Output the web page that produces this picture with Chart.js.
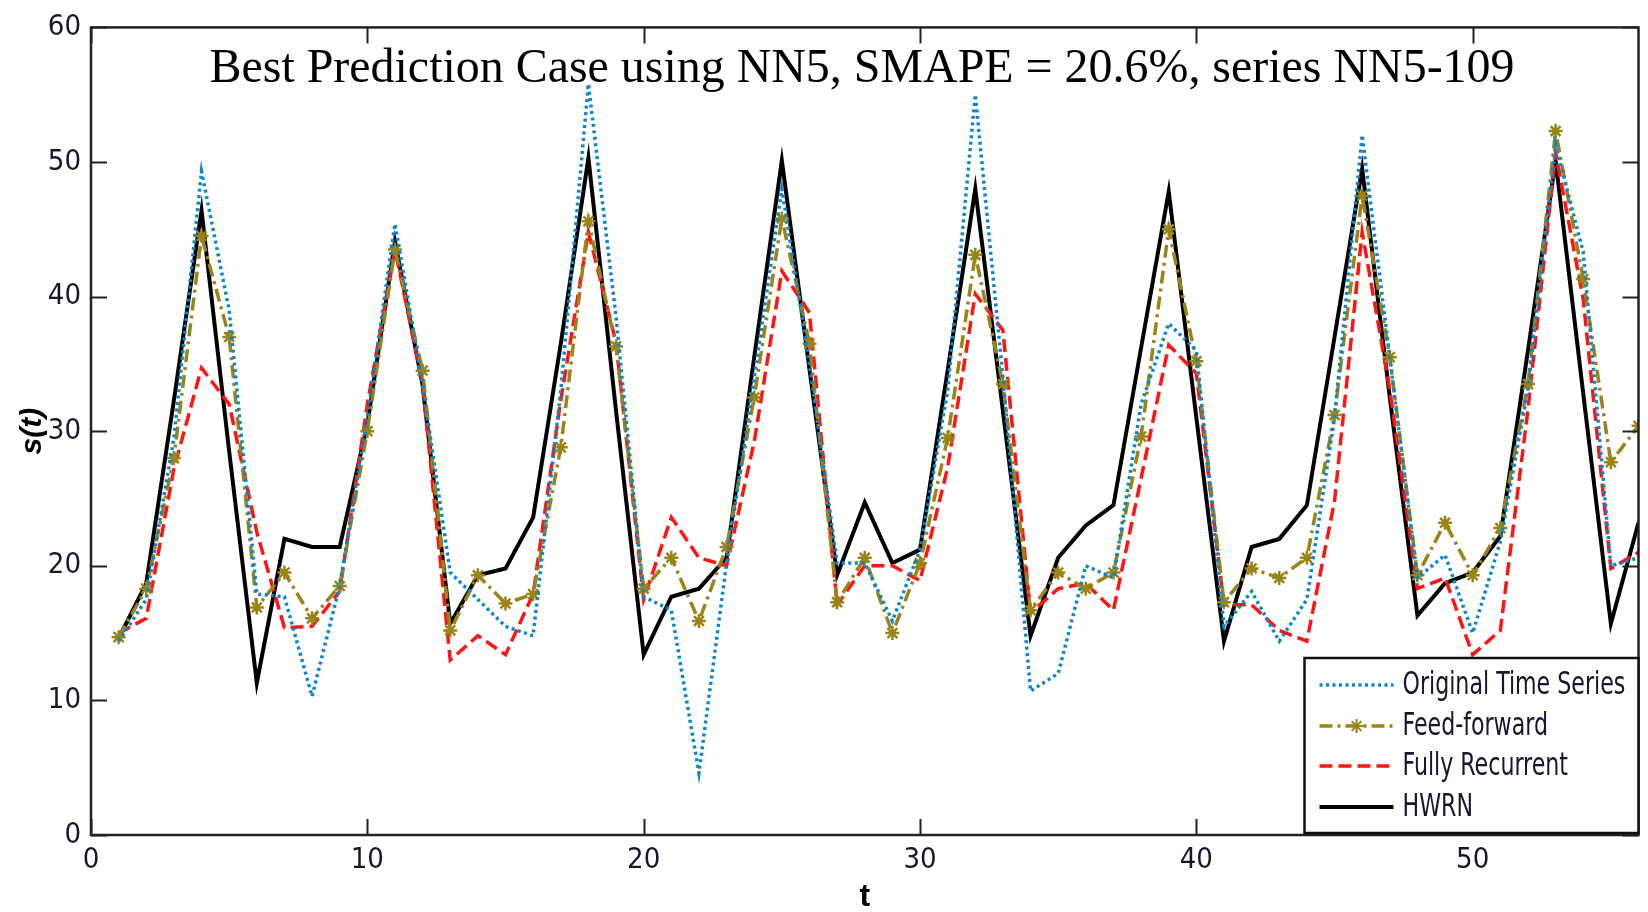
<!DOCTYPE html>
<html>
<head>
<meta charset="utf-8">
<script src="https://cdn.jsdelivr.net/npm/chart.js@4.4.1/dist/chart.umd.min.js"></script>
<style>
  html, body { margin: 0; padding: 0; background: #fff; }
  canvas { display: block; }
</style>
</head>
<body>
<canvas id="chart" width="1648" height="912"></canvas>
<script>
// time index t
const tValues = [1, 2, 3, 4, 5, 6, 7, 8, 9, 10, 11, 12, 13, 14, 15, 16, 17, 18, 19, 20,
  21, 22, 23, 24, 25, 26, 27, 28, 29, 30, 31, 32, 33, 34, 35, 36, 37, 38, 39, 40,
  41, 42, 43, 44, 45, 46, 47, 48, 49, 50, 51, 52, 53, 54, 55, 56];

// values
const originalSeries = [14.4, 17.5, 29.5, 49.3, 39.0, 17.9, 17.7, 10.3, 18.5, 31.0,
  45.4, 33.5, 19.5, 17.5, 15.5, 14.8, 33.0, 55.8, 38.5, 17.7,
  16.7, 4.6, 20.2, 34.0, 48.0, 35.0, 20.2, 20.2, 15.9, 21.2,
  33.0, 55.0, 34.0, 10.7, 12.0, 20.0, 19.1, 32.0, 38.0, 36.0,
  15.5, 18.1, 14.4, 17.5, 31.0, 52.0, 35.5, 19.1, 20.8, 15.0,
  21.8, 33.1, 51.3, 43.3, 20.0, 20.6];

const feedForward = [14.7, 18.3, 28.0, 44.5, 37.0, 16.9, 19.5, 16.1, 18.5, 30.0,
  43.5, 34.5, 15.2, 19.3, 17.2, 17.9, 28.8, 45.6, 36.3, 18.3,
  20.6, 15.9, 21.4, 32.5, 45.8, 36.5, 17.3, 20.6, 15.0, 20.2,
  29.5, 43.1, 33.5, 16.7, 19.5, 18.3, 19.5, 29.6, 45.0, 35.2,
  17.3, 19.8, 19.1, 20.6, 31.2, 47.5, 35.5, 19.3, 23.2, 19.3,
  22.8, 33.5, 52.3, 41.3, 27.7, 30.4];

const fullyRecurrent = [15.0, 16.1, 27.2, 34.7, 32.0, 22.5, 15.4, 15.5, 18.1, 32.0,
  43.5, 33.5, 13.0, 14.8, 13.4, 17.9, 32.3, 44.8, 36.6, 17.5,
  23.6, 20.6, 20.0, 29.2, 41.9, 38.8, 17.1, 20.0, 20.0, 18.9,
  27.3, 40.2, 37.5, 16.5, 18.3, 18.7, 16.7, 26.5, 36.4, 34.3,
  17.1, 17.1, 15.2, 14.4, 24.8, 44.8, 33.1, 18.3, 19.1, 13.4,
  15.2, 31.6, 50.7, 39.8, 19.8, 21.0];

const hwrn = [14.6, 18.7, 32.3, 46.4, 28.5, 11.3, 22.0, 21.4, 21.4, 30.5,
  44.1, 33.4, 15.7, 19.3, 19.8, 23.6, 36.5, 50.3, 31.5, 13.4,
  17.7, 18.3, 20.6, 35.5, 50.1, 34.6, 19.3, 24.7, 20.2, 21.2,
  34.5, 48.0, 31.5, 14.8, 20.6, 23.0, 24.5, 36.2, 47.8, 31.0,
  14.4, 21.4, 22.0, 24.5, 37.0, 49.5, 32.5, 16.3, 18.7, 19.5,
  22.2, 36.0, 50.1, 32.8, 15.7, 23.2];

const xTicks = [0, 10, 20, 30, 40, 50];
const yTicks = [0, 10, 20, 30, 40, 50, 60];

const titleText = 'Best Prediction Case using NN5, SMAPE = 20.6%, series NN5-109';

const BLUE = '#0a86cc';
const TAN = '#9a8418';
const RED = '#ff1414';
const BLACK = '#000000';
const LABEL_COLOR = '#16162e';
const NARROW = '"Liberation Sans Narrow", "DejaVu Sans Condensed", "Liberation Sans", Arial, sans-serif';

const toPoints = (ys) => tValues.map((t, i) => ({ x: t, y: ys[i] }));

const seriesDefs = [
  { label: 'Original Time Series', data: originalSeries, color: BLUE, dash: [3, 3.5], width: 3.5 },
  { label: 'Feed-forward', data: feedForward, color: TAN, dash: [13, 5, 3, 5], width: 3.5, marker: true },
  { label: 'Fully Recurrent', data: fullyRecurrent, color: RED, dash: [13, 6], width: 3.5 },
  { label: 'HWRN', data: hwrn, color: BLACK, dash: [], width: 4 },
];

// box, inward ticks on all four sides
const framePlugin = {
  id: 'frame',
  afterDatasetsDraw(chart) {
    const { ctx, chartArea: a, scales } = chart;
    const len = 16;
    ctx.save();
    ctx.strokeStyle = '#222';
    ctx.lineWidth = 2;
    ctx.setLineDash([]);
    ctx.beginPath();
    xTicks.forEach((v) => {
      const px = Math.round(scales.x.getPixelForValue(v)) + 0.5;
      ctx.moveTo(px, a.bottom); ctx.lineTo(px, a.bottom - len);
      ctx.moveTo(px, a.top); ctx.lineTo(px, a.top + len);
    });
    yTicks.forEach((v) => {
      const py = Math.round(scales.y.getPixelForValue(v)) + 0.5;
      ctx.moveTo(a.left, py); ctx.lineTo(a.left + len, py);
      ctx.moveTo(a.right, py); ctx.lineTo(a.right - len, py);
    });
    ctx.stroke();
    ctx.lineWidth = 2.5;
    ctx.strokeRect(a.left, a.top, a.right - a.left, a.bottom - a.top);
    ctx.restore();
  },
};

// legend box in the lower right corner of the axes
const legendPlugin = {
  id: 'boxLegend',
  afterDraw(chart) {
    const { ctx, chartArea: a } = chart;
    const w = 334, h = 175;
    const left = a.right - w, top = a.bottom - h - 2;
    ctx.save();
    ctx.fillStyle = '#fff';
    ctx.fillRect(left, top, w, h);
    ctx.strokeStyle = '#111';
    ctx.lineWidth = 2.5;
    ctx.strokeRect(left, top, w, h);
    const rows = [27, 68, 108, 149];
    seriesDefs.forEach((s, i) => {
      const y = top + rows[i];
      ctx.strokeStyle = s.color;
      ctx.lineWidth = s.width;
      ctx.setLineDash(s.dash);
      ctx.beginPath();
      ctx.moveTo(left + 15, y);
      ctx.lineTo(left + 89, y);
      ctx.stroke();
      ctx.setLineDash([]);
      if (s.marker) {
        const cx = left + 52, r = 7;
        ctx.lineWidth = 2;
        ctx.beginPath();
        ctx.moveTo(cx - r, y); ctx.lineTo(cx + r, y);
        ctx.moveTo(cx, y - r); ctx.lineTo(cx, y + r);
        ctx.moveTo(cx - r * 0.7, y - r * 0.7); ctx.lineTo(cx + r * 0.7, y + r * 0.7);
        ctx.moveTo(cx - r * 0.7, y + r * 0.7); ctx.lineTo(cx + r * 0.7, y - r * 0.7);
        ctx.stroke();
      }
      // slightly condensed text, as in the original figure
      ctx.save();
      ctx.translate(left + 98, y + 1);
      ctx.scale(0.82, 1.05);
      ctx.fillStyle = LABEL_COLOR;
      ctx.font = '30px ' + NARROW;
      ctx.textBaseline = 'middle';
      ctx.fillText(s.label, 0, 0, 276);
      ctx.restore();
    });
    ctx.restore();
  },
};

// title written inside the axes
const titlePlugin = {
  id: 'innerTitle',
  afterDraw(chart) {
    const { ctx } = chart;
    ctx.save();
    ctx.fillStyle = '#000';
    ctx.font = '48px "Liberation Serif", "Times New Roman", serif';
    ctx.textAlign = 'center';
    ctx.textBaseline = 'alphabetic';
    ctx.fillText(titleText, 862, 82, 1305);
    ctx.restore();
  },
};

new Chart(document.getElementById('chart'), {
  type: 'line',
  data: {
    datasets: seriesDefs.map((s) => ({
      label: s.label,
      data: toPoints(s.data),
      borderColor: s.color,
      backgroundColor: s.color,
      borderWidth: s.width,
      borderDash: s.dash,
      borderCapStyle: 'butt',
      tension: 0,
      fill: false,
      pointRadius: s.marker ? 7 : 0,
      pointStyle: 'star',
      pointBorderWidth: 2.5,
      pointBorderColor: s.color,
    })),
  },
  options: {
    responsive: false,
    animation: false,
    devicePixelRatio: 1,
    layout: { padding: { top: 21, right: 2, left: 0, bottom: 0 } },
    plugins: {
      legend: { display: false },
      tooltip: { enabled: false },
      title: { display: false },
    },
    scales: {
      x: {
        type: 'linear',
        min: 0,
        max: 56,
        afterFit: (scale) => { scale.height = 77; },
        ticks: {
          stepSize: 10,
          includeBounds: false,
          padding: 8,
          color: LABEL_COLOR,
          font: { family: NARROW, size: 29 },
          maxRotation: 0,
        },
        grid: { display: false, drawTicks: false, tickLength: 0 },
        border: { display: false },
        title: {
          display: true,
          text: 't',
          color: '#000',
          font: { family: 'Liberation Sans, Arial, sans-serif', size: 32, weight: 'bold', lineHeight: 1 },
          padding: { top: 0, bottom: -1 },
        },
      },
      y: {
        type: 'linear',
        min: 0,
        max: 60,
        afterFit: (scale) => { scale.width = 91; },
        ticks: {
          stepSize: 10,
          padding: 10,
          color: LABEL_COLOR,
          font: { family: NARROW, size: 29 },
        },
        grid: { display: false, drawTicks: false, tickLength: 0 },
        border: { display: false },
        title: {
          display: true,
          text: 's(t)',
          color: '#000',
          font: { family: 'Liberation Sans, Arial, sans-serif', size: 30, weight: 'bold', style: 'italic', lineHeight: 1 },
          padding: { top: 18, bottom: 0 },
        },
      },
    },
  },
  plugins: [framePlugin, legendPlugin, titlePlugin],
});
</script>
</body>
</html>
